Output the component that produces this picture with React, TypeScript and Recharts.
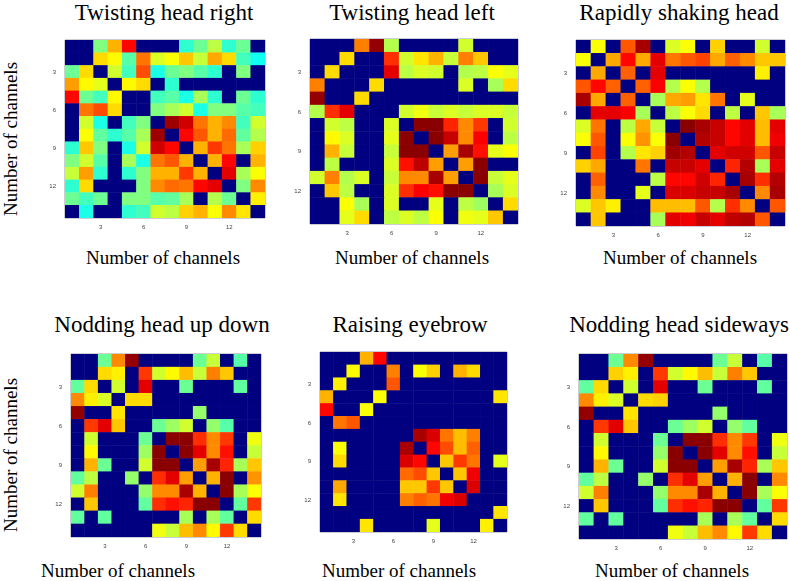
import React from "react";
import { ScatterChart, Scatter, XAxis, YAxis, ReferenceArea } from "recharts";

const tickValues = [3, 6, 9, 12];
const axisLabel = "Number of channels";

const headRight = [
  [0,0,50,70,87,0,0,0,42,48,56,42,48,0],
  [0,0,66,63,46,76,59,62,68,57,71,66,44,39],
  [48,66,0,58,44,80,40,48,50,46,42,0,50,0],
  [72,63,60,0,63,66,0,42,0,0,0,0,0,0],
  [87,48,44,63,0,0,44,46,40,54,42,0,48,42],
  [0,76,80,66,0,0,50,54,58,40,50,50,46,44],
  [0,58,40,0,44,50,0,97,92,76,70,74,44,58],
  [0,62,47,42,46,54,97,0,87,79,70,77,47,55],
  [42,68,50,0,40,58,92,87,0,70,82,76,54,67],
  [50,58,46,0,54,40,76,79,70,0,70,87,0,70],
  [57,72,42,0,42,50,70,70,82,70,0,90,54,62],
  [42,66,0,0,0,50,74,77,76,87,90,0,50,74],
  [48,44,48,0,50,50,46,47,54,0,55,48,0,64],
  [0,40,0,0,42,44,58,56,67,70,62,74,65,0],
];
const headLeft = [
  [0,0,0,75,98,55,0,0,0,0,58,0,0,0],
  [0,0,66,0,0,83,58,65,70,57,75,68,0,0],
  [0,66,0,0,0,90,56,59,58,0,55,56,62,60],
  [75,0,0,0,66,0,0,0,0,0,59,0,54,66],
  [98,0,0,66,0,0,0,0,0,0,0,0,0,0],
  [55,83,90,0,0,0,58,61,57,59,57,59,59,57],
  [0,58,56,0,0,59,0,99,99,84,74,82,0,58],
  [0,63,59,0,0,60,99,0,99,93,74,88,0,56],
  [0,70,57,0,0,57,99,99,0,72,96,86,60,62],
  [0,56,0,0,0,59,86,94,72,0,72,99,0,0],
  [58,75,55,59,0,57,74,74,96,72,0,99,57,60],
  [0,68,56,0,0,59,83,88,86,99,99,0,54,59],
  [0,0,62,54,0,59,0,0,60,0,56,53,0,66],
  [0,0,60,66,0,56,59,56,62,0,61,60,68,0],
];
const shaking = [
  [0,62,0,79,96,0,59,62,0,67,0,0,58,0],
  [62,0,71,87,71,90,76,79,81,71,78,74,68,68],
  [0,71,0,78,0,90,0,0,0,0,0,0,64,0],
  [79,87,78,0,78,88,55,62,55,0,0,0,0,0],
  [96,71,0,78,0,54,71,72,65,76,0,60,0,0],
  [0,90,90,88,54,0,56,62,66,0,56,0,68,54],
  [59,76,0,56,71,57,0,99,96,93,87,90,69,90],
  [62,79,0,62,73,62,99,0,95,93,87,90,69,89],
  [0,81,0,55,65,67,97,95,0,90,92,92,79,93],
  [67,71,0,0,76,0,93,93,90,0,84,95,54,90],
  [0,78,0,0,0,56,87,87,92,84,0,96,83,95],
  [0,74,0,0,60,0,91,91,93,93,96,0,74,96],
  [59,68,64,0,0,69,69,69,79,55,83,74,0,79],
  [0,68,0,0,0,54,90,89,93,90,94,95,79,0],
];
const nodding = [
  [0,0,48,74,98,0,0,0,0,48,57,0,46,0],
  [0,0,66,64,0,82,58,63,69,57,75,68,0,0],
  [47,66,0,58,0,90,0,0,48,0,0,0,47,0],
  [74,64,59,0,66,66,0,0,0,0,0,0,0,0],
  [98,0,0,65,0,0,0,0,0,52,0,0,0,0],
  [0,82,90,68,0,0,48,53,58,0,52,46,0,0],
  [0,58,0,0,0,48,0,99,99,83,74,82,0,61],
  [0,63,0,0,0,53,99,0,99,90,74,86,0,57],
  [0,70,48,0,0,58,99,99,0,72,96,84,54,68],
  [47,56,0,0,52,0,83,90,72,0,70,99,0,73],
  [58,75,0,0,0,52,74,74,96,70,0,99,54,62],
  [0,68,0,0,0,47,83,86,84,99,99,0,47,82],
  [47,0,47,0,0,0,0,0,54,0,54,47,0,66],
  [0,0,0,0,0,0,61,57,69,74,63,82,66,0],
];
const eyebrow = [
  [0,0,0,70,87,0,0,0,0,0,0,0,0,0],
  [0,0,63,0,0,75,0,62,67,0,70,66,0,0],
  [0,64,0,0,0,79,0,0,0,0,0,0,0,0],
  [70,0,0,0,62,0,0,0,0,0,0,0,0,65],
  [87,0,0,62,0,0,0,0,0,0,0,0,0,0],
  [0,76,79,0,0,0,0,0,0,0,0,0,0,0],
  [0,0,0,0,0,0,0,96,91,76,69,75,0,0],
  [0,62,0,0,0,0,96,0,87,80,69,78,0,0],
  [0,66,0,0,0,0,91,87,0,68,82,76,0,60],
  [0,0,0,0,0,0,77,80,68,0,68,89,0,0],
  [0,71,0,0,0,0,68,68,82,68,0,91,0,0],
  [0,65,0,0,0,0,75,78,76,89,91,0,0,0],
  [0,0,0,0,0,0,0,0,0,0,0,0,0,65],
  [0,0,0,65,0,0,0,0,60,0,0,0,64,0],
];
const sideways = [
  [0,0,48,74,98,0,0,0,0,48,57,0,46,0],
  [0,0,67,64,0,82,58,63,69,57,75,68,0,0],
  [47,66,0,58,0,90,0,0,48,0,0,0,47,0],
  [74,64,59,0,66,67,0,0,0,0,0,0,0,0],
  [98,0,0,65,0,0,0,0,0,52,0,0,0,0],
  [0,82,90,68,0,0,48,53,58,0,52,47,0,0],
  [0,58,0,0,0,48,0,99,99,83,74,82,0,61],
  [0,63,0,0,0,52,99,0,99,90,74,86,0,57],
  [0,70,48,0,0,58,99,99,0,72,96,84,54,68],
  [47,56,0,0,52,0,83,90,72,0,70,99,0,74],
  [58,75,0,0,0,52,74,74,96,70,0,99,54,62],
  [0,68,0,0,0,47,83,86,84,99,99,0,47,82],
  [47,0,47,0,0,0,0,0,54,0,54,47,0,66],
  [0,0,0,0,0,0,61,57,69,74,63,82,66,0],
];

type Panel = {
  title: string; matrix: number[][];
  left: number; right: number; top: number; bottom: number;
  titleX: number; titleY: number; labelX: number; labelY: number;
};
const panels: Panel[] = [
  { title: "Twisting head right", matrix: headRight, left: 65, right: 265, top: 40, bottom: 218, titleX: 164, titleY: 3, labelX: 163, labelY: 248 },
  { title: "Twisting head left", matrix: headLeft, left: 310, right: 518, top: 39, bottom: 224, titleX: 412, titleY: 3, labelX: 412, labelY: 248 },
  { title: "Rapidly shaking head", matrix: shaking, left: 576, right: 785, top: 40, bottom: 226, titleX: 679, titleY: 3, labelX: 680, labelY: 248 },
  { title: "Nodding head up down", matrix: nodding, left: 71, right: 261, top: 354, bottom: 537, titleX: 162, titleY: 315, labelX: 118, labelY: 561 },
  { title: "Raising eyebrow", matrix: eyebrow, left: 320, right: 507, top: 352, bottom: 532, titleX: 410, titleY: 315, labelX: 399, labelY: 561 },
  { title: "Nodding head sideways", matrix: sideways, left: 579, right: 787, top: 354, bottom: 539, titleX: 679, titleY: 315, labelX: 672, labelY: 561 },
];
const sideLabels = [{ x: 10, y: 139 }, { x: 10, y: 455 }];

const clamp = (v: number) => Math.max(0, Math.min(1, v));
function jet(pct: number) {
  const v = pct / 100;
  const c = (k: number) => Math.round(255 * clamp(1.5 - Math.abs(4 * v - k)));
  return `rgb(${c(3)},${c(2)},${c(1)})`;
}
const cellsOf = (m: number[][]) =>
  m.flatMap((row, r) => row.map((value, c) => ({ col: c + 1, row: r + 1, value })));

const serif = '"Liberation Serif", serif';
const gutterLeft = 24;
const gutterBottom = 14;
const pad = 2;

function Heatmap({ p }: { p: Panel }) {
  const w = p.right - p.left;
  const h = p.bottom - p.top;
  const cw = w / 14;
  const ch = h / 14;
  const Cell = (props: any) => (
    <rect
      x={props.cx - cw / 2 - 0.25}
      y={props.cy - ch / 2 - 0.25}
      width={cw + 0.5}
      height={ch + 0.5}
      fill={jet(props.payload.value)}
    />
  );
  return (
    <div style={{ position: "absolute", left: p.left - gutterLeft, top: p.top - pad, filter: "blur(0.55px)" }}>
      <ScatterChart
        width={w + gutterLeft + pad}
        height={h + pad + gutterBottom}
        margin={{ top: pad, right: pad, bottom: 0, left: 0 }}
      >
        <XAxis
          type="number" dataKey="col" domain={[0.5, 14.5]} ticks={tickValues} height={gutterBottom}
          allowDataOverflow tickLine={false} axisLine={false} tickMargin={1}
          tick={{ fontSize: 6, fill: "#444", fontFamily: '"Liberation Sans", sans-serif' }}
        />
        <YAxis
          type="number" dataKey="row" domain={[0.5, 14.5]} ticks={tickValues} reversed width={gutterLeft}
          allowDataOverflow tickLine={false} axisLine={false} tickMargin={3}
          tick={{ fontSize: 6, fill: "#444", fontFamily: '"Liberation Sans", sans-serif' }}
        />
        <Scatter data={cellsOf(p.matrix)} shape={Cell} isAnimationActive={false} />
        <ReferenceArea x1={0.5} x2={14.5} y1={0.5} y2={14.5} fill="none" stroke="#9a9aa8" strokeWidth={1} ifOverflow="visible" />
      </ScatterChart>
    </div>
  );
}

const centered = (x: number, y: number, size: number, lineHeight = 1): React.CSSProperties => ({
  position: "absolute", left: x, top: y, transform: "translateX(-50%)", whiteSpace: "nowrap",
  fontFamily: serif, fontSize: size, lineHeight, color: "#000",
});

export default function App() {
  return (
    <div style={{ position: "absolute", left: 0, top: 0, width: 789, height: 581, background: "#fff", overflow: "hidden" }}>
      {panels.map((p) => (
        <React.Fragment key={p.title}>
          <div style={centered(p.titleX, p.titleY, 23, 0.9)}>{p.title}</div>
          <Heatmap p={p} />
          <div style={centered(p.labelX, p.labelY, 19, 1)}>{axisLabel}</div>
        </React.Fragment>
      ))}
      {sideLabels.map((s) => (
        <div key={s.y} style={{ ...centered(0, 0, 19), left: s.x, top: s.y, transform: "translate(-50%,-50%) rotate(-90deg)" }}>
          {axisLabel}
        </div>
      ))}
    </div>
  );
}
